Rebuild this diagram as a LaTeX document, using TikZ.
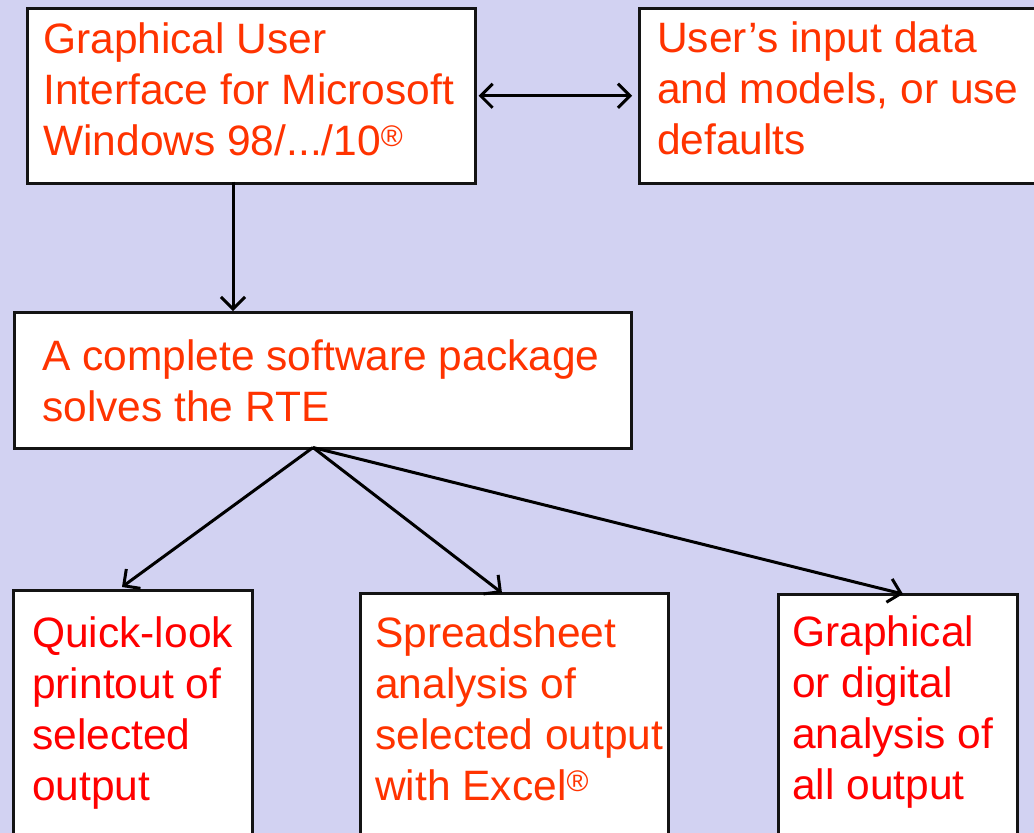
\documentclass[tikz,border=0pt]{standalone}
\usepackage{fontspec}
\setmainfont{Liberation Sans}
\usetikzlibrary{arrows.meta}
\definecolor{bgc}{RGB}{210,210,242}
\definecolor{orred}{RGB}{255,51,0}
\definecolor{pured}{RGB}{255,0,0}
\definecolor{edge}{RGB}{20,20,20}
\tikzset{
  box/.style={draw=edge, line width=2.5pt, fill=white, anchor=north west, inner sep=0pt},
  txt/.style={anchor=north west, inner sep=0pt, align=left, font=\fontsize{42.5pt}{51pt}\selectfont},
  tip/.tip={Straight Barb[length=12pt,width=24pt,line width=3pt]},
  arr/.style={line width=3pt, draw=black, -tip},
  darr/.style={line width=3pt, draw=black, tip-tip}
}
\newcommand{\firstline}{\rule{0pt}{34pt}}
\begin{document}
\begin{tikzpicture}[x=1pt,y=-1pt]
\useasboundingbox (0,0) rectangle (1034,833);
\clip (0,0) rectangle (1034,833);
\fill[bgc] (0,0) rectangle (1034,833);
% boxes
\node[box, minimum width=448pt, minimum height=175pt] (gui) at (26,7) {};
\node[box, minimum width=410pt, minimum height=175pt] (user) at (638,7) {};
\node[box, minimum width=617pt, minimum height=136pt] (mid) at (13,311) {};
\node[box, minimum width=239pt, minimum height=260pt] (quick) at (12,589) {};
\node[box, minimum width=308pt, minimum height=260pt] (spread) at (359,592) {};
\node[box, minimum width=239pt, minimum height=260pt] (graph) at (777,593) {};
% texts
\node[txt, text=orred] (guiT) at (43,19) {\firstline Graphical User\\Interface for Microsoft\\Windows 98/.../10\textsuperscript{®}};
\node[txt, text=orred] (userT) at (657,18) {\firstline User’s input data\\and models, or use\\defaults};
\node[txt, text=orred] (midT) at (42,336) {\firstline A complete software package\\solves the RTE};
\node[txt, text=pured] (quickT) at (32,613) {\firstline Quick-look\\printout of\\selected\\output};
\node[txt, text=orred] (spreadT) at (375,613) {\firstline Spreadsheet\\analysis of\\selected output\\with Excel\textsuperscript{®}};
\node[txt, text=pured] (graphT) at (792,612) {\firstline Graphical\\or digital\\analysis of\\all output};
% connectors
\draw[darr] ([xshift=2pt]gui.east) -- ([xshift=-6pt]user.west);
\draw[arr] ([xshift=207pt,yshift=3pt]gui.south west) -- ([xshift=220pt]mid.north west);
\coordinate (fan) at ([xshift=300pt,yshift=2pt]mid.south west);
\draw[arr] (fan) -- ([xshift=110pt,yshift=2pt]quick.north west);
\draw[arr] (fan) -- ([xshift=143pt,yshift=-1pt]spread.north west);
\draw[arr] (fan) -- ([xshift=126pt,yshift=-1pt]graph.north west);
\end{tikzpicture}
\end{document}
